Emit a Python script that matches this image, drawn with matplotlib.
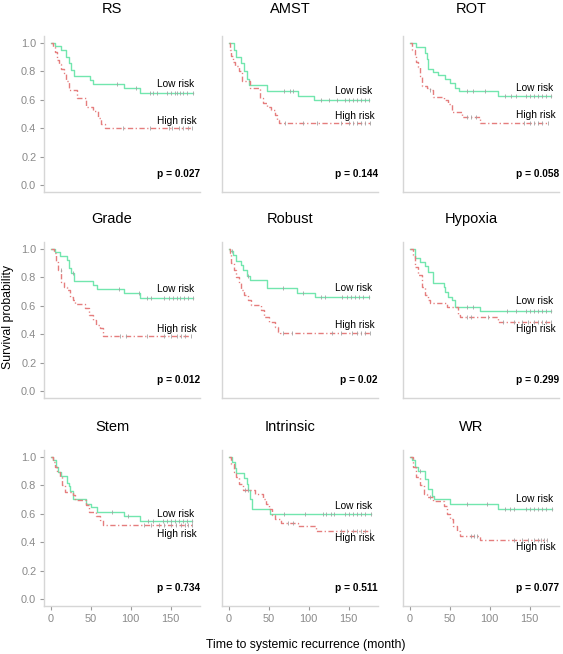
import numpy as np
import matplotlib
matplotlib.use("Agg")
import matplotlib.pyplot as plt

plt.rcParams['font.family'] = ['Liberation Sans', 'DejaVu Sans']

# ---------------- data ----------------
titles = ["RS", "AMST", "ROT", "Grade", "Robust", "Hypoxia", "Stem", "Intrinsic", "WR"]
p_values = ["p = 0.027", "p = 0.144", "p = 0.058", "p = 0.012", "p = 0.02", "p = 0.299",
            "p = 0.734", "p = 0.511", "p = 0.077"]
x_ticks = [0, 50, 100, 150]
y_ticks = [0.0, 0.2, 0.4, 0.6, 0.8, 1.0]

# low-risk group: event times, survival after each event, censor times
low_t = [
    [5, 12, 19, 22, 25, 29, 49, 53, 91, 112],
    [6, 9, 15, 19, 23, 25, 47, 86, 107],
    [7, 19, 21, 23, 29, 35, 44, 50, 56, 62, 110],
    [5, 11, 20, 23, 25, 29, 52, 58, 91, 112],
    [1, 5, 9, 15, 18, 22, 26, 47, 85, 108],
    [6, 13, 19, 23, 29, 42, 44, 48, 52, 56, 88],
    [3, 6, 9, 12, 20, 22, 24, 28, 44, 50, 58, 91, 112],
    [4, 7, 9, 19, 22, 24, 26, 29, 51],
    [3, 6, 10, 19, 23, 27, 30, 50, 110],
]
low_s = [
    [0.976, 0.952, 0.905, 0.857, 0.81, 0.766, 0.738, 0.714, 0.686, 0.65],
    [0.95, 0.90, 0.86, 0.80, 0.75, 0.707, 0.66, 0.63, 0.60],
    [0.974, 0.93, 0.89, 0.82, 0.797, 0.773, 0.75, 0.72, 0.686, 0.662, 0.624],
    [0.976, 0.95, 0.92, 0.87, 0.83, 0.775, 0.746, 0.718, 0.69, 0.657],
    [0.988, 0.958, 0.918, 0.887, 0.852, 0.81, 0.782, 0.723, 0.692, 0.66],
    [0.934, 0.911, 0.88, 0.84, 0.758, 0.735, 0.70, 0.664, 0.641, 0.594, 0.563],
    [0.979, 0.931, 0.896, 0.865, 0.82, 0.794, 0.761, 0.707, 0.671, 0.648, 0.612, 0.582, 0.548],
    [0.967, 0.92, 0.889, 0.85, 0.813, 0.766, 0.707, 0.636, 0.60],
    [0.976, 0.929, 0.905, 0.846, 0.775, 0.728, 0.704, 0.669, 0.634],
]
low_c = [
    [83, 107, 124, 128, 133, 145, 150, 155, 158, 162, 166, 170, 178],
    [69, 76, 80, 115, 125, 135, 145, 150, 155, 160, 165, 170, 176],
    [71, 79, 94, 119, 127, 133, 145, 150, 155, 160, 165, 170, 177],
    [27, 85, 110, 120, 125, 142, 148, 153, 158, 162, 167, 172, 178],
    [4, 24, 68, 93, 115, 120, 142, 148, 153, 158, 163, 168, 175],
    [71, 79, 122, 133, 145, 150, 155, 160, 165, 170, 177],
    [77, 97, 122, 128, 140, 146, 150, 155, 160, 165, 170, 177],
    [69, 95, 118, 122, 128, 132, 145, 150, 155, 160, 165, 170, 178],
    [12, 71, 96, 119, 125, 131, 145, 150, 155, 160, 165, 170, 178],
]

# high-risk group
high_t = [
    [3, 5, 7, 10, 13, 16, 19, 22, 33, 44, 52, 59, 63, 68],
    [1, 3, 5, 8, 12, 16, 26, 39, 42, 48, 53, 58, 60, 63],
    [3, 6, 8, 10, 13, 15, 21, 25, 29, 42, 47, 52, 65, 88],
    [4, 6, 9, 13, 16, 20, 24, 27, 30, 43, 48, 52, 56, 61, 65],
    [1, 3, 6, 9, 12, 15, 19, 24, 28, 40, 44, 50, 57, 61, 64],
    [4, 6, 10, 15, 19, 23, 25, 46, 60, 63, 110],
    [3, 5, 7, 11, 14, 18, 27, 30, 44, 48, 56, 61, 65],
    [2, 6, 9, 13, 18, 33, 42, 46, 50, 54, 58, 65, 86, 109],
    [4, 8, 12, 17, 21, 29, 42, 46, 50, 54, 59, 63, 88],
]
high_s = [
    [0.97, 0.94, 0.88, 0.85, 0.82, 0.79, 0.73, 0.67, 0.61, 0.55, 0.52, 0.47, 0.43, 0.40],
    [0.95, 0.91, 0.87, 0.84, 0.80, 0.73, 0.68, 0.61, 0.58, 0.55, 0.525, 0.49, 0.455, 0.435],
    [0.95, 0.91, 0.87, 0.83, 0.77, 0.70, 0.686, 0.667, 0.62, 0.60, 0.567, 0.513, 0.478, 0.44],
    [0.97, 0.91, 0.85, 0.77, 0.73, 0.71, 0.664, 0.641, 0.61, 0.582, 0.535, 0.50, 0.465, 0.441, 0.387],
    [0.97, 0.90, 0.85, 0.805, 0.758, 0.711, 0.676, 0.641, 0.606, 0.57, 0.523, 0.488, 0.453, 0.418, 0.406],
    [0.958, 0.876, 0.817, 0.735, 0.676, 0.641, 0.617, 0.59, 0.535, 0.523, 0.488],
    [0.966, 0.931, 0.896, 0.86, 0.801, 0.754, 0.73, 0.695, 0.66, 0.612, 0.582, 0.553, 0.518],
    [0.95, 0.896, 0.86, 0.813, 0.771, 0.742, 0.707, 0.671, 0.636, 0.589, 0.565, 0.534, 0.511, 0.478],
    [0.929, 0.858, 0.80, 0.74, 0.716, 0.693, 0.657, 0.598, 0.563, 0.516, 0.48, 0.445, 0.414],
]
high_c = [
    [90, 124, 148, 152, 160, 166, 172, 177],
    [70, 93, 110, 140, 150, 156, 160, 165, 170, 177],
    [25, 71, 76, 83, 143, 150, 155, 160, 165, 173],
    [12, 87, 94, 120, 142, 150, 158, 163, 168, 176],
    [68, 79, 129, 140, 154, 160, 165, 170, 177],
    [72, 76, 98, 117, 130, 140, 148, 155, 160, 165, 170, 177],
    [117, 125, 135, 142, 150, 157, 163, 168, 172, 177],
    [20, 24, 74, 80, 140, 148, 155, 160, 165, 170, 177],
    [25, 76, 80, 84, 130, 140, 148, 155, 160, 164, 168, 172],
]

# label positions (x start, y) for "Low risk" / "High risk"
label_x = 133
low_label_y = [0.71, 0.66, 0.683, 0.716, 0.723, 0.634, 0.60, 0.652, 0.707]
high_label_y = [0.454, 0.484, 0.494, 0.437, 0.465, 0.434, 0.459, 0.428, 0.364]

# ---------------- style ----------------
GREEN = "#72e6ae"
RED = "#e57d7d"
CENSOR = "#a3a3a3"
SPINE = "#d6d6d6"
TICKLAB = "#8a8a8a"

W, H = 563, 654
fig = plt.figure(figsize=(W / 100, H / 100), dpi=100)

col_left = [44, 222, 403]
row_top = [36, 242, 450]
ax_w, ax_h = 156, 156
title_y = [9, 219, 427]


def surv_at(times, survs, t):
    idx = np.searchsorted(np.asarray(times), t, side='right')
    vals = np.concatenate([[1.0], np.asarray(survs)])
    return vals[idx]


for i in range(9):
    r, c = divmod(i, 3)
    left = col_left[c] / W
    bottom = 1 - (row_top[r] + ax_h) / H
    ax = fig.add_axes([left, bottom, ax_w / W, ax_h / H])

    for times, survs, cens, color, ls in [
        (low_t[i], low_s[i], low_c[i], GREEN, '-'),
        (high_t[i], high_s[i], high_c[i], RED, (0, (3.8, 1.8, 0.9, 1.8))),
    ]:
        end = max(cens)
        xs = np.concatenate([[0], times, [end]])
        ys = np.concatenate([[1.0], survs, [survs[-1]]])
        ax.step(xs, ys, where='post', color=color, lw=1.0, ls=ls, zorder=2)
        cy = surv_at(times, survs, np.asarray(cens))
        ax.plot(cens, cy, ls='none', marker='|', ms=3.0, mew=0.6,
                color=CENSOR, zorder=3)

    ax.text(label_x, low_label_y[i], "Low risk", fontsize=7.3, ha='left', va='center')
    ax.text(label_x, high_label_y[i], "High risk", fontsize=7.3, ha='left', va='center')
    ax.text(0.998, 0.117, p_values[i], transform=ax.transAxes, fontsize=7.3,
            fontweight='bold', ha='right', va='center')

    ax.set_xlim(-8.9, 186.9)
    ax.set_ylim(-0.05, 1.05)
    for s in ['top', 'right']:
        ax.spines[s].set_visible(False)
    for s in ['left', 'bottom']:
        ax.spines[s].set_color(SPINE)
        ax.spines[s].set_linewidth(1.0)

    if c == 0:
        ax.set_yticks(y_ticks)
        ax.set_yticklabels([f"{v:.1f}" for v in y_ticks])
    else:
        ax.set_yticks([])
    if r == 2:
        ax.set_xticks(x_ticks)
        ax.set_xticklabels([str(v) for v in x_ticks])
    else:
        ax.set_xticks([])
    ax.tick_params(axis='both', length=3, width=0.8, color="#9a9a9a",
                   labelcolor=TICKLAB, labelsize=7.9, pad=2.5)

    fig.text((col_left[c] + ax_w / 2 - 10) / W, 1 - title_y[r] / H, titles[i],
             fontsize=10.5, ha='center', va='center')

fig.text(8 / W, 1 - 317 / H, "Survival probability", rotation=90,
         fontsize=8.8, ha='center', va='center')
fig.text(306 / W, 1 - 645 / H, "Time to systemic recurrence (month)",
         fontsize=8.8, ha='center', va='center')

fig.savefig("out.png", dpi=100)
